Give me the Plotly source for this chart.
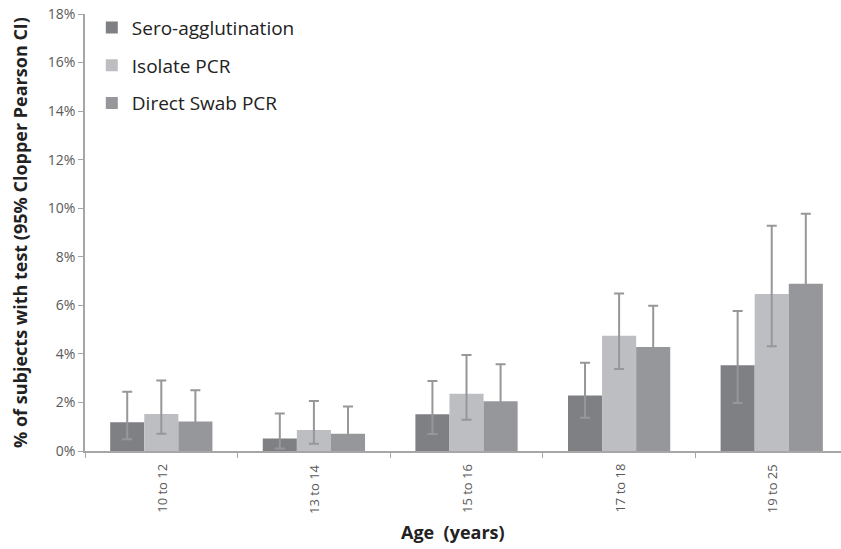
import plotly.graph_objects as go

categories = ["10 to 12", "13 to 14", "15 to 16", "17 to 18", "19 to 25"]

sero = [1.18, 0.52, 1.51, 2.29, 3.53]
sero_hi = [2.44, 1.54, 2.88, 3.64, 5.77]
sero_lo = [0.48, 0.10, 0.70, 1.37, 1.98]

isolate = [1.52, 0.86, 2.36, 4.75, 6.47]
isolate_hi = [2.90, 2.06, 3.95, 6.49, 9.28]
isolate_lo = [0.71, 0.30, 1.29, 3.38, 4.31]

direct = [1.21, 0.71, 2.05, 4.28, 6.89]
direct_hi = [2.50, 1.83, 3.57, 5.98, 9.77]
direct_lo = [0.55, 0.25, 1.07, 3.06, 4.71]

y_ticks = [0, 2, 4, 6, 8, 10, 12, 14, 16, 18]
y_tick_text = ["0%", "2%", "4%", "6%", "8%", "10%", "12%", "14%", "16%", "18%"]

series = [
    ("Sero-agglutination", sero, sero_hi, sero_lo, "#7f8084"),
    ("Isolate PCR", isolate, isolate_hi, isolate_lo, "#bdbec1"),
    ("Direct Swab PCR", direct, direct_hi, direct_lo, "#96979a"),
]

fig = go.Figure()
for i, (name, vals, hi, lo, col) in enumerate(series):
    fig.add_trace(go.Bar(
        x=categories, y=vals, name=name, legendgroup=f"g{i}",
        marker=dict(color=col, line=dict(width=0)),
        error_y=dict(type="data", symmetric=False,
                     array=[h - v for h, v in zip(hi, vals)],
                     arrayminus=[v - l for v, l in zip(vals, lo)],
                     color="#97979a", thickness=2, width=5),
    ))

W, H = 841, 549
L, T, B = 85, 14, 98
font_family = "Open Sans, Noto Sans, sans-serif"
fig.update_layout(
    width=W, height=H,
    margin=dict(l=L, r=0, t=T, b=B, autoexpand=False),
    plot_bgcolor="white", paper_bgcolor="white",
    barmode="group", bargap=0.33, bargroupgap=0,
    font=dict(family=font_family, color="#404040"),
    showlegend=True,
    legend=dict(x=0.009, y=1.012, xanchor="left", yanchor="top",
                font=dict(size=19, color="#222222"),
                tracegroupgap=10,
                bgcolor="rgba(0,0,0,0)"),
    xaxis=dict(
        type="category", range=[-0.5, 4.454], automargin=False,
        showline=True, linecolor="#a6a6a6", linewidth=1.5,
        ticks="outside", ticklen=5, tickcolor="#a6a6a6",
        tickmode="array", tickvals=[-0.5, 0.5, 1.5, 2.5, 3.5],
        ticktext=["", "", "", "", ""],
        showgrid=False, zeroline=False,
    ),
    yaxis=dict(
        range=[0, 18], tickmode="array", tickvals=y_ticks, ticktext=y_tick_text,
        automargin=False, ticklabeloverflow="allow",
        showline=True, linecolor="#a6a6a6", linewidth=1.5,
        ticks="outside", ticklen=5, tickcolor="#a6a6a6",
        tickfont=dict(size=14, color="#595959"),
        showgrid=False, zeroline=False,
        title=dict(text="<b>% of subjects with test (95% Clopper Pearson CI)</b>",
                   font=dict(size=18, color="#222222"), standoff=16),
    ),
)

# category labels, rotated
for c in categories:
    fig.add_annotation(x=c, y=0, xref="x", yref="y", text=c, textangle=-90,
                       showarrow=False, yanchor="top", xanchor="center", yshift=-11,
                       font=dict(size=13, color="#595959", family=font_family))

# x axis title
plot_h = H - T - B
fig.add_annotation(x=0.487, y=(H - B - 532) / plot_h, xref="paper", yref="paper",
                   text="<b>Age  (years)</b>",
                   showarrow=False, xanchor="center", yanchor="middle",
                   font=dict(size=18, color="#222222", family=font_family))

fig.write_html("out.html", config={"displayModeBar": False},
               post_script="document.body.style.margin='0';")
